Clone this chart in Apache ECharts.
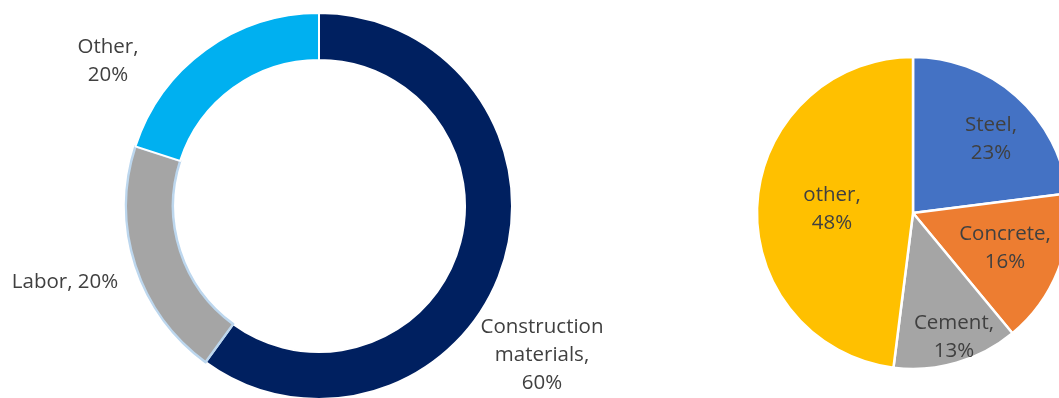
<!DOCTYPE html>
<html>
<head>
<meta charset="utf-8">
<script src="https://cdn.jsdelivr.net/npm/echarts@6/dist/echarts.min.js"></script>
<style>html,body{margin:0;padding:0;background:#fff}#c{width:1059px;height:398px}</style>
</head>
<body>
<div id="c"></div>
<script>
// Left donut: cost breakdown
const costCategories = ['Construction materials', 'Labor', 'Other'];
const costValues = [60, 20, 20];
// Right pie: materials breakdown
const materialCategories = ['Steel', 'Concrete', 'Cement', 'other'];
const materialValues = [23, 16, 13, 48];

const costColors = ['#002060', '#A5A5A5', '#00B0F0'];
const materialColors = ['#4472C4', '#ED7D31', '#A5A5A5', '#FFC000'];

// label anchor positions (layout only)
const costLabelPos = [[542, 355], [65, 282], [108, 61]];
const costLabelText = ['Construction\nmaterials,\n{v}%', 'Labor, {v}%', 'Other,\n{v}%'];
const materialLabelPos = [[991, 139], [1005, 248], [954, 337], [832, 209]];

const FONT = 'Open Sans';
const FS = 20.5;
const chart = echarts.init(document.getElementById('c'), null, {renderer: 'canvas'});
chart.setOption({
  animation: false,
  series: [
    {
      type: 'pie',
      center: [319, 206],
      radius: [146, 193],
      startAngle: 90,
      clockwise: true,
      data: costCategories.map((n, i) => ({
        name: n, value: costValues[i],
        itemStyle: {
          color: costColors[i],
          borderColor: i === 1 ? '#BDD7EE' : '#ffffff',
          borderWidth: i === 1 ? 2.5 : 2
        }
      })),
      label: {
        show: true, position: 'outside', overflow: 'none',
        color: '#404040', fontFamily: FONT, fontSize: FS, lineHeight: 28,
        align: 'center',
        formatter: p => costLabelText[p.dataIndex].replace('{v}', p.value)
      },
      labelLine: {show: false},
      labelLayout: p => ({
        x: costLabelPos[p.dataIndex][0], y: costLabelPos[p.dataIndex][1],
        align: 'center', verticalAlign: 'middle', width: 300
      }),
      emphasis: {disabled: true}
    },
    {
      type: 'pie',
      center: [913, 213],
      radius: [0, 156],
      startAngle: 90,
      clockwise: true,
      data: materialCategories.map((n, i) => ({
        name: n, value: materialValues[i],
        itemStyle: {color: materialColors[i], borderColor: '#ffffff', borderWidth: 2.5}
      })),
      label: {
        show: true, position: 'inside', overflow: 'none',
        color: '#404040', fontFamily: FONT, fontSize: FS, lineHeight: 28,
        align: 'center',
        formatter: p => p.name + ',\n' + p.value + '%'
      },
      labelLine: {show: false},
      labelLayout: p => ({
        x: materialLabelPos[p.dataIndex][0], y: materialLabelPos[p.dataIndex][1],
        align: 'center', verticalAlign: 'middle'
      }),
      emphasis: {disabled: true}
    }
  ]
});
</script>
</body>
</html>
